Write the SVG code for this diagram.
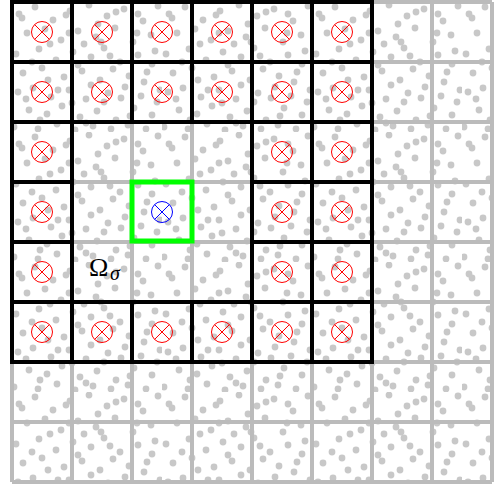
<svg xmlns="http://www.w3.org/2000/svg" width="494" height="486" viewBox="0 0 494 486">
<style>
.dot{fill:#c8c8c8}
.grid{stroke:#bbbbbb;stroke-width:4;fill:none}
.cell{stroke:#000;stroke-width:4;fill:none}
.mk{fill:none;stroke-width:1}
.red{stroke:#ff0000}
.blue{stroke:#0000ff}
.lbl{font-family:"Liberation Serif","DejaVu Serif",serif;fill:#000}
</style>
<defs>
<pattern id="dots" x="12" y="2" width="150" height="130" patternUnits="userSpaceOnUse">
<g class="dot">
<circle cx="7" cy="12" r="3.4"/><circle cx="23" cy="5" r="3.4"/><circle cx="41" cy="18" r="3.4"/><circle cx="58" cy="9" r="3.4"/><circle cx="77" cy="3" r="3.4"/><circle cx="95" cy="14" r="3.4"/><circle cx="112" cy="7" r="3.4"/><circle cx="131" cy="19" r="3.4"/><circle cx="146" cy="4" r="3.4"/>
<circle cx="15" cy="31" r="3.4"/><circle cx="33" cy="27" r="3.4"/><circle cx="49" cy="38" r="3.4"/><circle cx="66" cy="29" r="3.4"/><circle cx="84" cy="35" r="3.4"/><circle cx="103" cy="26" r="3.4"/><circle cx="121" cy="40" r="3.4"/><circle cx="139" cy="33" r="3.4"/>
<circle cx="4" cy="52" r="3.4"/><circle cx="27" cy="47" r="3.4"/><circle cx="44" cy="58" r="3.4"/><circle cx="61" cy="50" r="3.4"/><circle cx="79" cy="55" r="3.4"/><circle cx="92" cy="46" r="3.4"/><circle cx="108" cy="60" r="3.4"/><circle cx="126" cy="53" r="3.4"/><circle cx="143" cy="49" r="3.4"/>
<circle cx="11" cy="71" r="3.4"/><circle cx="30" cy="66" r="3.4"/><circle cx="52" cy="75" r="3.4"/><circle cx="70" cy="69" r="3.4"/><circle cx="88" cy="78" r="3.4"/><circle cx="101" cy="67" r="3.4"/><circle cx="117" cy="74" r="3.4"/><circle cx="135" cy="70" r="3.4"/>
<circle cx="6" cy="90" r="3.4"/><circle cx="21" cy="86" r="3.4"/><circle cx="39" cy="95" r="3.4"/><circle cx="57" cy="88" r="3.4"/><circle cx="74" cy="97" r="3.4"/><circle cx="96" cy="91" r="3.4"/><circle cx="113" cy="85" r="3.4"/><circle cx="129" cy="94" r="3.4"/><circle cx="148" cy="88" r="3.4"/>
<circle cx="17" cy="108" r="3.4"/><circle cx="35" cy="112" r="3.4"/><circle cx="50" cy="104" r="3.4"/><circle cx="68" cy="115" r="3.4"/><circle cx="85" cy="109" r="3.4"/><circle cx="104" cy="118" r="3.4"/><circle cx="122" cy="106" r="3.4"/><circle cx="140" cy="113" r="3.4"/>
<circle cx="2" cy="125" r="3.4"/><circle cx="26" cy="127" r="3.4"/><circle cx="45" cy="122" r="3.4"/><circle cx="63" cy="128" r="3.4"/><circle cx="81" cy="124" r="3.4"/><circle cx="99" cy="127" r="3.4"/><circle cx="116" cy="123" r="3.4"/><circle cx="134" cy="127" r="3.4"/>
<circle cx="10" cy="16" r="3.4"/><circle cx="54" cy="13" r="3.4"/><circle cx="57" cy="31" r="3.4"/><circle cx="86" cy="22" r="3.4"/><circle cx="89" cy="40" r="3.4"/><circle cx="126" cy="12" r="3.4"/><circle cx="20" cy="60" r="3.4"/><circle cx="36" cy="78" r="3.4"/><circle cx="72" cy="42" r="3.4"/><circle cx="98" cy="54" r="3.4"/><circle cx="140" cy="62" r="3.4"/><circle cx="46" cy="88" r="3.4"/><circle cx="60" cy="101" r="3.4"/><circle cx="79" cy="83" r="3.4"/><circle cx="92" cy="100" r="3.4"/><circle cx="109" cy="96" r="3.4"/><circle cx="132" cy="80" r="3.4"/><circle cx="14" cy="97" r="3.4"/><circle cx="28" cy="118" r="3.4"/><circle cx="74" cy="121" r="3.4"/><circle cx="118" cy="114" r="3.4"/><circle cx="145" cy="100" r="3.4"/><circle cx="38" cy="42" r="3.4"/><circle cx="104" cy="10" r="3.4"/><circle cx="66" cy="63" r="3.4"/><circle cx="125" cy="31" r="3.4"/>
</g>
</pattern>
<g id="xmark"><circle cx="0" cy="0" r="10.5"/><path d="M-7.4,-7.4L7.4,7.4M-7.4,7.4L7.4,-7.4"/></g>
</defs>
<rect width="494" height="486" fill="#fff"/>
<rect id="particles" x="12" y="2" width="480" height="480" fill="url(#dots)"/>
<g id="connectors">
<path class="grid" d="M12,2V482M72,2V482M132,2V482M192,2V482M252,2V482M312,2V482M372,2V482M432,2V482M492,2V482M12,2H492M12,62H492M12,122H492M12,182H492M12,242H492M12,302H492M12,362H492M12,422H492M12,482H492"/>
<path class="cell" d="M12,2H372V122H12ZM72,2V122M132,2V122M192,2V122M252,2V122M312,2V122M12,62H372M12,122V362H72V122M252,122H372V302H252ZM312,122V302M252,182H372M252,242H372M12,182H72M12,242H72M12,302H372V362H12M72,302V362M132,302V362M192,302V362M252,302V362M312,302V362"/>
</g>
<g id="cells" class="mk red">
<use href="#xmark" x="42" y="32"/><use href="#xmark" x="102" y="32"/><use href="#xmark" x="162" y="32"/><use href="#xmark" x="222" y="32"/><use href="#xmark" x="282" y="32"/><use href="#xmark" x="342" y="32"/>
<use href="#xmark" x="42" y="92"/><use href="#xmark" x="102" y="92"/><use href="#xmark" x="162" y="92"/><use href="#xmark" x="222" y="92"/><use href="#xmark" x="282" y="92"/><use href="#xmark" x="342" y="92"/>
<use href="#xmark" x="42" y="152"/><use href="#xmark" x="282" y="152"/><use href="#xmark" x="342" y="152"/>
<use href="#xmark" x="42" y="212"/><use href="#xmark" x="282" y="212"/><use href="#xmark" x="342" y="212"/>
<use href="#xmark" x="42" y="272"/><use href="#xmark" x="282" y="272"/><use href="#xmark" x="342" y="272"/>
<use href="#xmark" x="42" y="332"/><use href="#xmark" x="102" y="332"/><use href="#xmark" x="162" y="332"/><use href="#xmark" x="222" y="332"/><use href="#xmark" x="282" y="332"/><use href="#xmark" x="342" y="332"/>
</g>
<g id="target">
<rect x="132" y="182" width="60" height="59" fill="none" stroke="#00ff00" stroke-width="5"/>
<use href="#xmark" x="162" y="212" class="mk blue"/>
</g>
<g id="label">
<text class="lbl" x="89" y="276" font-size="26">Ω</text>
<text class="lbl" x="110" y="279.5" font-size="20" font-style="italic">σ</text>
</g>
</svg>
